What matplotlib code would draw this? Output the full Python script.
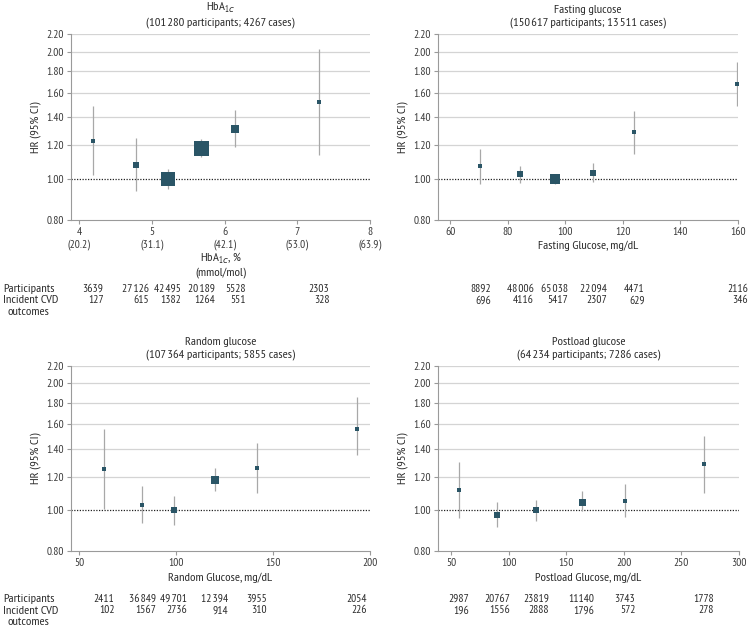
import numpy as np
import matplotlib
matplotlib.use("Agg")
import matplotlib.pyplot as plt
import matplotlib.ticker as ticker
import matplotlib.transforms as mtransforms
from matplotlib import font_manager as fm
from matplotlib.textpath import TextPath

TS = "\u200a"  # espace très fine pour les milliers

# ---- Données ----
# HbA1c
hba_x = [4.19, 4.78, 5.22, 5.68, 6.15, 7.30]
hba_hr = [1.23, 1.077, 1.00, 1.186, 1.315, 1.52]
hba_lo = [1.02, 0.937, 0.945, 1.125, 1.19, 1.14]
hba_hi = [1.49, 1.25, 1.054, 1.243, 1.456, 2.03]
hba_part = ["3639", "27" + TS + "126", "42" + TS + "495", "20" + TS + "189", "5528", "2303"]
hba_cases = ["127", "615", "1382", "1264", "551", "328"]

# Glycémie à jeun
fg_x = [70.5, 84.3, 96.3, 109.7, 124.0, 159.8]
fg_hr = [1.071, 1.026, 1.00, 1.035, 1.289, 1.68]
fg_lo = [0.975, 0.98, 0.973, 0.984, 1.146, 1.488]
fg_hi = [1.178, 1.073, 1.03, 1.093, 1.448, 1.894]
fg_part = ["8892", "48" + TS + "006", "65" + TS + "038", "22" + TS + "094", "4471", "2116"]
fg_cases = ["696", "4116", "5417", "2307", "629", "346"]

# Glycémie aléatoire
rg_x = [62.9, 82.7, 98.9, 120.0, 141.7, 193.3]
rg_hr = [1.255, 1.031, 1.00, 1.182, 1.26, 1.559]
rg_lo = [1.009, 0.93, 0.92, 1.113, 1.097, 1.353]
rg_hi = [1.556, 1.144, 1.083, 1.26, 1.444, 1.86]
rg_part = ["2411", "36" + TS + "849", "49" + TS + "701", "12" + TS + "394", "3955", "2054"]
rg_cases = ["102", "1567", "2736", "914", "310", "226"]

# Glycémie post-charge
pg_x = [56.6, 89.9, 123.7, 163.3, 200.9, 269.4]
pg_hr = [1.117, 0.975, 1.00, 1.048, 1.054, 1.285]
pg_lo = [0.957, 0.911, 0.943, 0.993, 0.961, 1.097]
pg_hi = [1.30, 1.043, 1.058, 1.111, 1.152, 1.503]
pg_part = ["2987", "20767", "23819", "11140", "3743", "1778"]
pg_cases = ["196", "1556", "2888", "1796", "572", "278"]

y_ticks = [0.8, 1.0, 1.2, 1.4, 1.6, 1.8, 2.0, 2.2]

panels = [
    dict(title="HbA$_{1c}$\n(101" + TS + "280 participants; 4267 cases)",
         x=hba_x, hr=hba_hr, lo=hba_lo, hi=hba_hi, part=hba_part, cases=hba_cases,
         xticks=[4, 5, 6, 7, 8],
         xticklabels=["4\n(20.2)", "5\n(31.1)", "6\n(42.1)", "7\n(53.0)", "8\n(63.9)"],
         xlabel="HbA$_{1c}$, %\n(mmol/mol)", xlim=(3.89, 8), label_y=-0.165,
         rect=[71 / 750, 1 - 220 / 629, 299 / 750, 186 / 629], table_y=289, max_px=15),
    dict(title="Fasting glucose\n(150" + TS + "617 participants; 13" + TS + "511 cases)",
         x=fg_x, hr=fg_hr, lo=fg_lo, hi=fg_hi, part=fg_part, cases=fg_cases,
         xticks=[60, 80, 100, 120, 140, 160], xticklabels=None,
         xlabel="Fasting Glucose, mg/dL", xlim=(55.8, 160), label_y=-0.11,
         rect=[438 / 750, 1 - 220 / 629, 300 / 750, 186 / 629], table_y=289, max_px=10),
    dict(title="Random glucose\n(107" + TS + "364 participants; 5855 cases)",
         x=rg_x, hr=rg_hr, lo=rg_lo, hi=rg_hi, part=rg_part, cases=rg_cases,
         xticks=[50, 100, 150, 200], xticklabels=None,
         xlabel="Random Glucose, mg/dL", xlim=(45.9, 200), label_y=-0.115,
         rect=[71 / 750, 1 - 551 / 629, 299 / 750, 185 / 629], table_y=599, max_px=8),
    dict(title="Postload glucose\n(64" + TS + "234 participants; 7286 cases)",
         x=pg_x, hr=pg_hr, lo=pg_lo, hi=pg_hi, part=pg_part, cases=pg_cases,
         xticks=[50, 100, 150, 200, 250, 300], xticklabels=None,
         xlabel="Postload Glucose, mg/dL", xlim=(38.7, 300), label_y=-0.115,
         rect=[438 / 750, 1 - 551 / 629, 301 / 750, 185 / 629], table_y=599, max_px=7),
]

# Police : une sans étroite statique si dispo, sinon Liberation Sans
FONT = 'Liberation Sans'
for cand in ['Source Sans Pro', 'PT Sans Narrow', 'Fira Sans Condensed', 'Roboto Condensed',
             'Source Sans 3', 'PT Sans', 'Liberation Sans']:
    try:
        path = fm.findfont(fm.FontProperties(family=cand), fallback_to_default=False)
    except Exception:
        continue
    if '[' in path or 'Variable' in path:
        continue
    FONT = cand
    break


def taille_pour(texte, largeur_px):
    # taille (pt) qui donne au texte la largeur voulue (px, à 100 dpi)
    w = TextPath((0, 0), texte, size=10, prop=fm.FontProperties(family=FONT)).get_extents().width
    return 10 * largeur_px / (w * 100 / 72)


FS = min(9.0, taille_pour("(101 280 participants; 4267 cases)", 148))
FN = min(FS, taille_pour("49701", 25))   # chiffres du tableau et graduations

plt.rcParams['font.family'] = [FONT, 'DejaVu Sans']
plt.rcParams['font.size'] = FS
plt.rcParams['mathtext.fontset'] = 'custom'
plt.rcParams['mathtext.rm'] = FONT

TXT = '#2a2a2a'
SQ = '#2a5566'
W, H = 750, 629

fig = plt.figure(figsize=(7.5, 6.29), dpi=100)

for p in panels:
    ax = fig.add_axes(p['rect'])
    ax.set_yscale('log')
    ax.set_ylim(0.8, 2.2)
    ax.set_xlim(*p['xlim'])

    # quadrillage + ligne de référence
    for yv in y_ticks[2:]:
        ax.axhline(yv, color='#d4d4d4', lw=0.9, zorder=0)
    ax.axhline(1.0, color='#222222', lw=0.9, ls=(0, (1, 1.2)), zorder=1)

    x = np.array(p['x'])
    hr = np.array(p['hr'])
    lo = np.array(p['lo'])
    hi = np.array(p['hi'])
    # taille des carrés ~ inverse de la largeur de l'IC (log)
    w = 1.0 / (np.log(hi) - np.log(lo))
    side_px = np.maximum(p['max_px'] * w / w.max(), 3.5)

    ax.vlines(x, lo, hi, color='#a8a8a8', lw=0.9, zorder=2)
    for xi, yi, s in zip(x, hr, side_px):
        ax.plot(xi, yi, marker='s', ms=s * 0.72, color=SQ, mec=SQ, mew=0, zorder=3)

    ax.yaxis.set_major_locator(ticker.FixedLocator(y_ticks))
    ax.yaxis.set_minor_locator(ticker.NullLocator())
    ax.yaxis.set_major_formatter(ticker.FixedFormatter([f"{v:.2f}" for v in y_ticks]))
    ax.set_xticks(p['xticks'])
    if p['xticklabels']:
        ax.set_xticklabels(p['xticklabels'])

    for s in ['top', 'right']:
        ax.spines[s].set_visible(False)
    for s in ['left', 'bottom']:
        ax.spines[s].set_color('#9a9a9a')
        ax.spines[s].set_linewidth(0.8)
    ax.tick_params(axis='both', colors='#9a9a9a', labelcolor='#3a3a3a',
                   labelsize=FN, length=3, width=0.8, pad=2)

    ax.set_ylabel("HR (95% CI)", color=TXT, fontsize=FS, labelpad=4)
    ax.set_xlabel(p['xlabel'], color=TXT, fontsize=FS, linespacing=1.2)
    ax.xaxis.set_label_coords(0.5, p['label_y'])
    ax.set_title(p['title'], color=TXT, fontsize=FS, pad=6, linespacing=1.3)

    # tableau participants / événements : bloc centré sur x, lignes alignées à droite
    trans = mtransforms.blended_transform_factory(ax.transData, fig.transFigure)
    ymid = 1 - (p['table_y'] + 5.75) / H
    for xi, n1, n2 in zip(x, p['part'], p['cases']):
        ax.text(xi, ymid, n1 + "\n" + n2, transform=trans, ha='center', va='center',
                multialignment='right', linespacing=1.15, color=TXT, fontsize=FN,
                clip_on=False)
    if p['rect'][0] < 0.3:
        ty = p['table_y']
        fig.text(3 / W, 1 - ty / H, "Participants", ha='left', va='center', color=TXT, fontsize=FS)
        fig.text(3 / W, 1 - (ty + 11.5) / H, "Incident CVD", ha='left', va='center', color=TXT, fontsize=FS)
        fig.text(8 / W, 1 - (ty + 23) / H, "outcomes", ha='left', va='center', color=TXT, fontsize=FS)

fig.savefig('out.png', dpi=100)
